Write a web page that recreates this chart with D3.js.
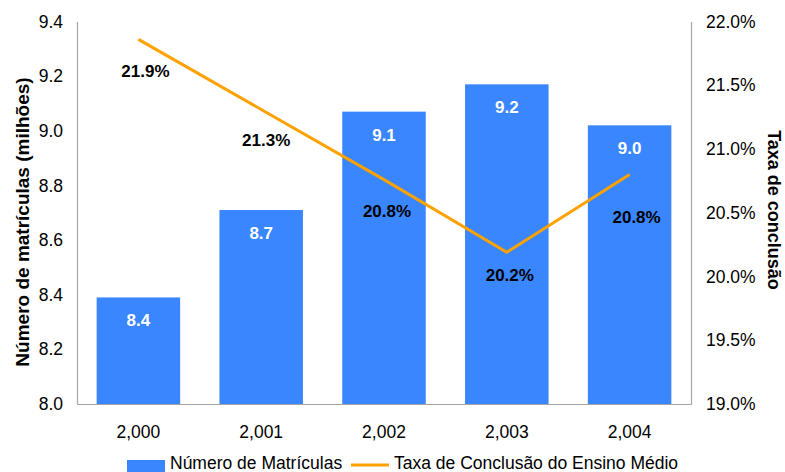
<!DOCTYPE html>
<html>
<head>
<meta charset="utf-8">
<script src="https://cdn.jsdelivr.net/npm/d3@7"></script>
<style>
  html, body { margin: 0; padding: 0; background: #fff; }
  svg { display: block; font-family: "Liberation Sans", Arial, sans-serif; }
</style>
</head>
<body>
<svg id="chart" width="785" height="472"></svg>
<script>
// Data
const years = [2000, 2001, 2002, 2003, 2004];
const matriculas = [8.39, 8.71, 9.07, 9.17, 9.02];          // milhões
const taxaConclusao = [21.86, 21.31, 20.76, 20.19, 20.80];   // %
const leftTicks = [8.0, 8.2, 8.4, 8.6, 8.8, 9.0, 9.2, 9.4];
const rightTicks = [19.0, 19.5, 20.0, 20.5, 21.0, 21.5, 22.0];

// Placement of the percentage labels relative to their points (px)
const pctLabelOffset = [[7, 32], [5, 31], [3, 31], [3, 23], [7, 42]];

const W = 785, H = 472;
const plot = { left: 77, right: 691, top: 21.5, bottom: 404 };
const barColor = "#3A86FF";
const lineColor = "#FFA200";
const axisColor = "#A6A6A6";

const svg = d3.select("#chart");

const x = d3.scaleBand()
  .domain(years)
  .range([plot.left, plot.right])
  .paddingInner(0.32)
  .paddingOuter(0.16);

const yL = d3.scaleLinear().domain([8.0, 9.4]).range([plot.bottom, plot.top]);
const yR = d3.scaleLinear().domain([19.0, 22.0]).range([plot.bottom, plot.top]);

// Bars
svg.append("g").selectAll("rect")
  .data(years)
  .join("rect")
  .attr("x", d => x(d))
  .attr("y", (d, i) => yL(matriculas[i]))
  .attr("width", x.bandwidth())
  .attr("height", (d, i) => yL(8.0) - yL(matriculas[i]))
  .attr("fill", barColor);

// Bar value labels
svg.append("g").selectAll("text")
  .data(years)
  .join("text")
  .attr("x", d => x(d) + x.bandwidth() / 2)
  .attr("y", (d, i) => yL(matriculas[i]) + 29)
  .attr("text-anchor", "middle")
  .attr("font-size", 17)
  .attr("font-weight", "bold")
  .attr("fill", "#fff")
  .text((d, i) => d3.format(".1f")(matriculas[i]));

// Line
const cx = d => x(d) + x.bandwidth() / 2;
const line = d3.line()
  .x((d, i) => cx(years[i]))
  .y(d => yR(d));

svg.append("path")
  .datum(taxaConclusao)
  .attr("d", line)
  .attr("fill", "none")
  .attr("stroke", lineColor)
  .attr("stroke-width", 3);

// Line value labels
svg.append("g").selectAll("text")
  .data(taxaConclusao)
  .join("text")
  .attr("x", (d, i) => cx(years[i]) + pctLabelOffset[i][0])
  .attr("y", (d, i) => yR(d) + pctLabelOffset[i][1] + 6)
  .attr("text-anchor", "middle")
  .attr("font-size", 17)
  .attr("font-weight", "bold")
  .attr("fill", "#000")
  .text(d => d3.format(".1f")(d) + "%");

// Axes
const axisLeft = d3.axisLeft(yL).tickValues(leftTicks).tickFormat(d3.format(".1f")).tickSize(0).tickPadding(14);
const axisRight = d3.axisRight(yR).tickValues(rightTicks).tickFormat(d => d3.format(".1f")(d) + "%").tickSize(0).tickPadding(15);
const axisBottom = d3.axisBottom(x).tickFormat(d3.format(",")).tickSize(0).tickPadding(22);

function styleAxis(g) {
  g.select(".domain").attr("stroke", axisColor).attr("stroke-width", 1.2);
  g.selectAll("text")
    .attr("font-family", "Liberation Sans, Arial, sans-serif")
    .attr("font-size", 17.5)
    .attr("fill", "#000");
}

svg.append("g").attr("transform", `translate(${plot.left},0)`).call(axisLeft).call(styleAxis);
svg.append("g").attr("transform", `translate(${plot.right},0)`).call(axisRight).call(styleAxis);
svg.append("g").attr("transform", `translate(0,${plot.bottom})`).call(axisBottom).call(styleAxis);

// Axis titles
svg.append("text")
  .attr("transform", "translate(29,222) rotate(-90)")
  .attr("text-anchor", "middle")
  .attr("font-size", 19)
  .attr("font-weight", "bold")
  .text("Número de matrículas (milhões)");

svg.append("text")
  .attr("transform", "translate(768,210) rotate(90)")
  .attr("text-anchor", "middle")
  .attr("font-size", 18)
  .attr("font-weight", "bold")
  .text("Taxa de conclusão");

// Legend
const lg = svg.append("g");
lg.append("rect").attr("x", 127).attr("y", 460).attr("width", 38).attr("height", 14).attr("fill", barColor);
lg.append("text").attr("x", 170).attr("y", 469).attr("font-size", 17.5).text("Número de Matrículas");
lg.append("line").attr("x1", 351).attr("x2", 389).attr("y1", 465).attr("y2", 465)
  .attr("stroke", lineColor).attr("stroke-width", 3);
lg.append("text").attr("x", 394).attr("y", 469).attr("font-size", 17.5).text("Taxa de Conclusão do Ensino Médio");
</script>
</body>
</html>
